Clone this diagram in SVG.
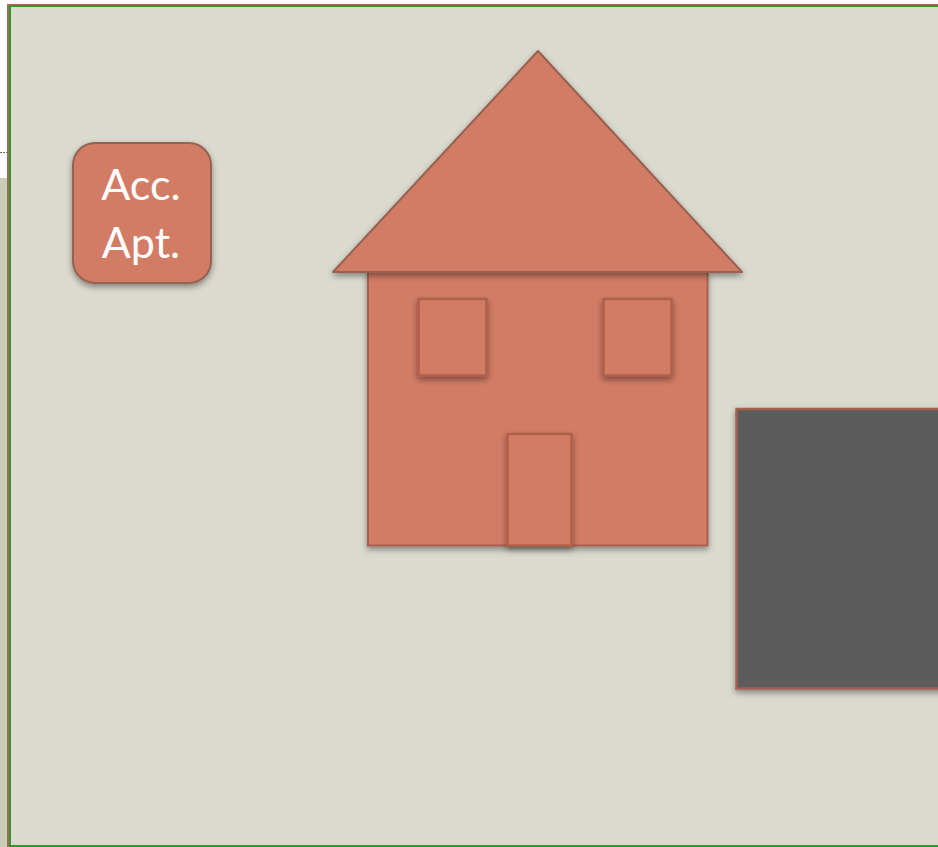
<svg xmlns="http://www.w3.org/2000/svg" width="938" height="847" viewBox="0 0 938 847">
  <style>
    .house { fill: #d27b66; stroke: #a8604e; stroke-width: 2; filter: url(#shadow); }
    .inner { fill: #d27b66; stroke: #b05f4a; stroke-width: 2.500; filter: url(#shadow); }
    .label { font-family: "Lato", "Liberation Sans", sans-serif; font-size: 43px; fill: #ffffff; text-anchor: middle; }
  </style>
  <defs>
    <filter id="shadow" x="-15%" y="-15%" width="130%" height="130%">
      <feDropShadow dx="0" dy="3" stdDeviation="3" flood-color="#000000" flood-opacity="0.400"/>
    </filter>
  </defs>
  <rect x="0" y="0" width="938" height="847" fill="#ffffff"/>
  <rect x="0" y="178" width="8" height="669" fill="#c9ccb7"/>
  <line x1="0" y1="152.500" x2="8" y2="152.500" stroke="#6d6a58" stroke-width="1" stroke-dasharray="2 1"/>
  <g id="frame">
    <rect x="7" y="4" width="940" height="850" fill="#a5675a"/>
    <rect x="9" y="5" width="940" height="842" fill="#2f9a28"/>
    <rect x="11" y="7" width="940" height="838" fill="#dbdacf"/>
  </g>
  <g id="acc-apt">
    <rect x="73" y="143" width="138" height="140" rx="22" ry="22" class="house" style="stroke:#946252"/>
    <text x="141" y="200" class="label">Acc.</text>
    <text x="141" y="258" class="label">Apt.</text>
  </g>
  <g id="house-body">
    <rect x="368" y="272" width="339.500" height="273.500" class="house"/>
  </g>
  <g id="roof">
    <polygon points="538,51 742,272 333,272" class="house" stroke-linejoin="round" style="stroke:#996050"/>
  </g>
  <g id="window-left">
    <rect x="418.500" y="299" width="68" height="76.500" class="inner"/>
  </g>
  <g id="window-right">
    <rect x="603.500" y="299" width="68" height="76.500" class="inner"/>
  </g>
  <g id="door">
    <rect x="507.500" y="434" width="64" height="111.500" class="inner"/>
  </g>
  <g id="dark-block">
    <rect x="736.500" y="409" width="220" height="279.500" fill="#5c5c5c" stroke="#a5604f" stroke-width="2.500" filter="url(#shadow)"/>
  </g>
  <g id="connectors"></g>
</svg>
